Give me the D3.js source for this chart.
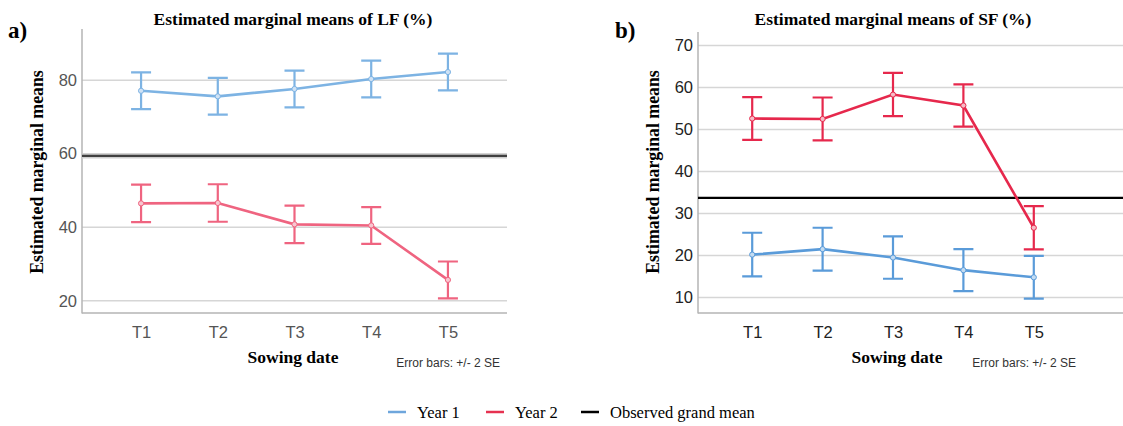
<!DOCTYPE html>
<html>
<head>
<meta charset="utf-8">
<script src="https://cdn.jsdelivr.net/npm/d3@7"></script>
<style>
  body { margin: 0; background: #fff; }
  svg { display: block; }
</style>
</head>
<body>
<div id="chart"></div>
<script>
// sowing dates on the x axis
var sowingDates = ["T1", "T2", "T3", "T4", "T5"];

// LF (%) marginal means, +/- 2 SE half widths
var lfYear1 = [77.1, 75.6, 77.6, 80.3, 82.2];
var lfYear1Err = [5.0, 5.0, 5.0, 5.0, 5.0];
var lfYear2 = [46.5, 46.6, 40.8, 40.5, 25.7];
var lfYear2Err = [5.1, 5.1, 5.1, 5.0, 5.0];
var lfGrandMean = 59.4;
var lfTicks = [20, 40, 60, 80];

// SF (%) marginal means
var sfYear1 = [20.2, 21.5, 19.5, 16.5, 14.8];
var sfYear1Err = [5.2, 5.1, 5.05, 5.0, 5.1];
var sfYear2 = [52.6, 52.5, 58.3, 55.7, 26.6];
var sfYear2Err = [5.1, 5.1, 5.15, 5.05, 5.15];
var sfGrandMean = 33.7;
var sfTicks = [10, 20, 30, 40, 50, 60, 70];

var legendItems = ["Year 1", "Year 2", "Observed grand mean"];

var width = 1123, height = 426;
var serif = "'Liberation Serif', 'Times New Roman', serif";
var sans = "'Liberation Sans', Arial, sans-serif";

var svg = d3.select("#chart")
    .append("svg")
    .attr("width", width)
    .attr("height", height);

function drawPanel(p) {
    var g = svg.append("g");

    var x = d3.scalePoint()
        .domain(sowingDates)
        .range([p.left, p.right])
        .padding(0.77);

    var y = d3.scaleLinear()
        .domain(p.yDomain)
        .range([313, p.top]);

    // gridlines
    g.selectAll(".grid")
        .data(p.ticks)
        .enter()
        .append("line")
        .attr("x1", p.left)
        .attr("x2", p.gridRight)
        .attr("y1", function(d) { return y(d); })
        .attr("y2", function(d) { return y(d); })
        .attr("stroke", "#d6d6d6")
        .attr("stroke-width", 1.5);

    // axes
    var yAxis = g.append("g")
        .attr("transform", "translate(" + p.left + ",0)")
        .call(d3.axisLeft(y).tickValues(p.ticks).tickSize(0).tickPadding(5));
    yAxis.select(".domain").remove();
    yAxis.selectAll("text")
        .attr("font-family", sans)
        .attr("font-size", 16.5)
        .attr("fill", p.tickColor);

    var xAxis = g.append("g")
        .attr("transform", "translate(0,313)")
        .call(d3.axisBottom(x).tickSize(0).tickPadding(13));
    xAxis.select(".domain").remove();
    xAxis.selectAll("text")
        .attr("font-family", sans)
        .attr("font-size", 16.5)
        .attr("fill", p.tickColor);

    g.append("line")
        .attr("x1", p.left).attr("x2", p.left)
        .attr("y1", p.top).attr("y2", 313.5)
        .attr("stroke", "#b4b4b4").attr("stroke-width", 1.5);
    g.append("line")
        .attr("x1", p.left).attr("x2", p.gridRight)
        .attr("y1", 313).attr("y2", 313)
        .attr("stroke", "#b4b4b4").attr("stroke-width", 1.5);

    // grand mean
    if (p.meanHalo) {
        g.append("line")
            .attr("x1", p.left).attr("x2", p.gridRight)
            .attr("y1", y(p.grandMean)).attr("y2", y(p.grandMean))
            .attr("stroke", "#cfcfcf").attr("stroke-width", 5);
    }
    g.append("line")
        .attr("x1", p.left).attr("x2", p.gridRight)
        .attr("y1", y(p.grandMean)).attr("y2", y(p.grandMean))
        .attr("stroke", p.meanColor).attr("stroke-width", 2.4);

    var line = d3.line()
        .x(function(d) { return x(d.t); })
        .y(function(d) { return y(d.v); });

    p.series.forEach(function(s) {
        var pts = sowingDates.map(function(t, i) {
            return {t: t, v: s.values[i], e: s.errs[i]};
        });
        var sg = g.append("g");

        sg.selectAll(".bar")
            .data(pts)
            .enter()
            .append("path")
            .attr("d", function(d) {
                var cx = x(d.t), hi = y(d.v + d.e), lo = y(d.v - d.e);
                return "M" + (cx - 10) + "," + hi + "H" + (cx + 10) +
                    "M" + cx + "," + hi + "V" + lo +
                    "M" + (cx - 10) + "," + lo + "H" + (cx + 10);
            })
            .attr("fill", "none")
            .attr("stroke", s.color)
            .attr("stroke-width", 2.2);

        sg.append("path")
            .datum(pts)
            .attr("d", line)
            .attr("fill", "none")
            .attr("stroke", s.color)
            .attr("stroke-width", 2.6);

        sg.selectAll(".pt")
            .data(pts)
            .enter()
            .append("circle")
            .attr("cx", function(d) { return x(d.t); })
            .attr("cy", function(d) { return y(d.v); })
            .attr("r", 2.6)
            .attr("fill", s.light)
            .attr("stroke", s.color)
            .attr("stroke-width", 1);
    });

    // titles and labels
    svg.append("text")
        .attr("x", p.titleX).attr("y", 25)
        .attr("text-anchor", "middle")
        .attr("font-family", serif).attr("font-weight", "bold")
        .attr("font-size", 17.5)
        .text(p.title);

    svg.append("text")
        .attr("x", p.labelX).attr("y", 38)
        .attr("font-family", serif).attr("font-weight", "bold")
        .attr("font-size", 23)
        .text(p.label);

    svg.append("text")
        .attr("transform", "translate(" + p.yTitleX + ",172) rotate(-90)")
        .attr("text-anchor", "middle")
        .attr("font-family", serif).attr("font-weight", "bold")
        .attr("font-size", 17.8)
        .text("Estimated marginal means");

    svg.append("text")
        .attr("x", p.xTitleX).attr("y", 363)
        .attr("text-anchor", "middle")
        .attr("font-family", serif).attr("font-weight", "bold")
        .attr("font-size", 17.5)
        .text("Sowing date");

    svg.append("text")
        .attr("x", p.noteX).attr("y", 367)
        .attr("text-anchor", "end")
        .attr("font-family", sans)
        .attr("font-size", 12)
        .attr("fill", "#333")
        .text("Error bars: +/- 2 SE");
}

drawPanel({
    left: 82, right: 507, gridRight: 507, top: 29,
    yDomain: [16.7, 93.9], ticks: lfTicks, tickColor: "#555",
    grandMean: lfGrandMean, meanColor: "#404040", meanHalo: true,
    series: [
        {values: lfYear1, errs: lfYear1Err, color: "#7db3e3", light: "#cfe2f5"},
        {values: lfYear2, errs: lfYear2Err, color: "#ef6480", light: "#f8c6d0"}
    ],
    title: "Estimated marginal means of LF (%)", titleX: 293,
    label: "a)", labelX: 8, yTitleX: 43, xTitleX: 293, noteX: 500
});

drawPanel({
    left: 698, right: 1088, gridRight: 1123, top: 32,
    yDomain: [6.3, 73.2], ticks: sfTicks, tickColor: "#222",
    grandMean: sfGrandMean, meanColor: "#000", meanHalo: false,
    series: [
        {values: sfYear1, errs: sfYear1Err, color: "#5a9bd9", light: "#c4dcf2"},
        {values: sfYear2, errs: sfYear2Err, color: "#e6284c", light: "#f6bcc7"}
    ],
    title: "Estimated marginal means of SF (%)", titleX: 893,
    label: "b)", labelX: 615, yTitleX: 659, xTitleX: 897, noteX: 1076
});

// legend
var legendColors = ["#6ea6dc", "#e63150", "#000"];
var legendX = [388, 486, 581];
var legend = svg.selectAll(".legend")
    .data(legendItems)
    .enter()
    .append("g")
    .attr("transform", function(d, i) { return "translate(" + legendX[i] + ",412)"; });

legend.append("line")
    .attr("x1", 0).attr("x2", 18)
    .attr("stroke", function(d, i) { return legendColors[i]; })
    .attr("stroke-width", 2.5);

legend.append("text")
    .attr("x", 29).attr("y", 5.5)
    .attr("font-family", serif)
    .attr("font-size", 16.5)
    .text(function(d) { return d; });
</script>
</body>
</html>
